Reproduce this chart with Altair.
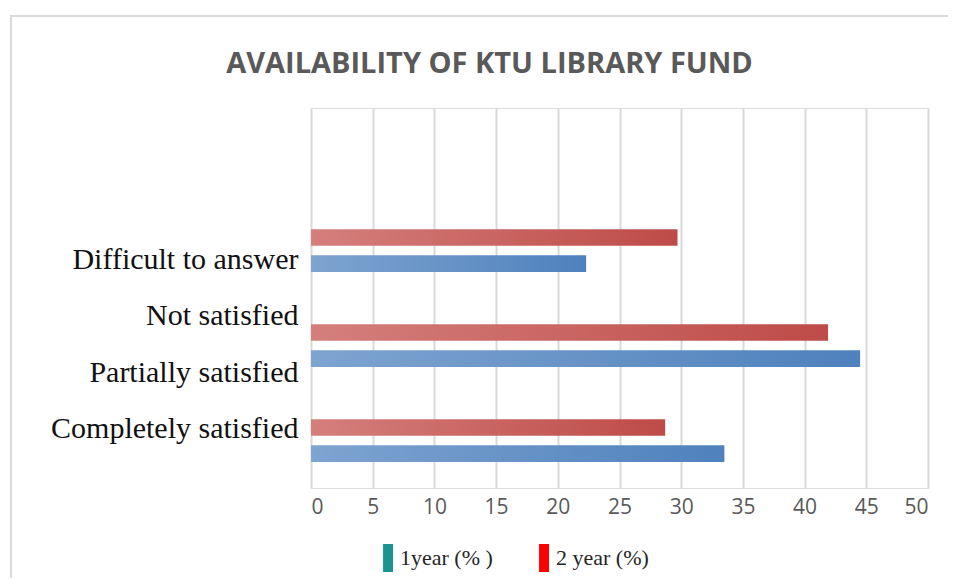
import altair as alt
import pandas as pd

# ---- data ----
categories = ["Not satisfied", "Difficult to answer", "Partially satisfied", "Completely satisfied"]
one_year = [0.0, 22.3, 44.5, 33.5]
two_year = [0.0, 29.7, 41.9, 28.7]
axis_labels = ["Difficult to answer", "Not satisfied", "Partially satisfied", "Completely satisfied"]
series_names = ["1year (% )", "2 year (%)"]
legend_colors = ["#1a9391", "#ff0000"]
ticks = list(range(0, 51, 5))
title_text = "AVAILABILITY OF KTU LIBRARY FUND"

bars_df = pd.DataFrame({
    "Category": categories * 2,
    "Series": [series_names[0]] * len(categories) + [series_names[1]] * len(categories),
    "Value": one_year + two_year,
})
labels_df = pd.DataFrame({"Label": axis_labels})
legend_df = pd.DataFrame({"Series": series_names})

x_enc = alt.X(
    "Value:Q",
    scale=alt.Scale(domain=[0, 50], nice=False),
    axis=alt.Axis(values=ticks, grid=True, domain=False, ticks=False, title=None,
                  labelFont="Open Sans", labelFontSize=21, labelColor="#595959",
                  labelPadding=8, gridColor="#d9d9d9", gridWidth=2),
)
y_enc = alt.Y("Category:N", sort=categories,
              scale=alt.Scale(domain=categories, paddingInner=0.55, paddingOuter=0.275),
              axis=None)
yoff_enc = alt.YOffset("Series:N",
                       scale=alt.Scale(domain=[series_names[1], series_names[0]],
                                       paddingInner=0.358, paddingOuter=0))

red_grad = alt.LinearGradient(
    gradient="linear",
    stops=[alt.GradientStop(color="#d47f7c", offset=0), alt.GradientStop(color="#be4b48", offset=1)],
    x1=0, x2=1, y1=0, y2=0,
)
blue_grad = alt.LinearGradient(
    gradient="linear",
    stops=[alt.GradientStop(color="#7ea4d0", offset=0), alt.GradientStop(color="#4f81bd", offset=1)],
    x1=0, x2=1, y1=0, y2=0,
)

base = alt.Chart(bars_df)
red_bars = base.transform_filter(alt.datum.Series == series_names[1]).mark_bar(color=red_grad).encode(
    x=x_enc, y=y_enc, yOffset=yoff_enc)
blue_bars = base.transform_filter(alt.datum.Series == series_names[0]).mark_bar(color=blue_grad).encode(
    x=x_enc, y=y_enc, yOffset=yoff_enc)
bars = alt.layer(red_bars, blue_bars)

label_layer = alt.Chart(labels_df).mark_text(opacity=0).encode(
    y=alt.Y("Label:N", sort=axis_labels,
            scale=alt.Scale(type="point", domain=axis_labels, range=[151.5, 320.5], padding=0),
            axis=alt.Axis(orient="left", title=None, domain=False, ticks=False, grid=False,
                          labelFont="Liberation Serif", labelFontSize=30, labelColor="#111111",
                          labelPadding=13, labelLimit=400))
)

legend_layer = alt.Chart(legend_df).mark_bar().encode(
    x=alt.datum(0), x2=alt.datum(0),
    color=alt.Color("Series:N",
                    scale=alt.Scale(domain=series_names, range=legend_colors),
                    legend=alt.Legend(orient="none", legendX=54, legendY=436, direction="horizontal",
                                      title=None, symbolType="M0.29,-1L1,-1L1,1L0.29,1Z",
                                      symbolSize=784, symbolStrokeWidth=0, symbolOpacity=1,
                                      labelFont="Liberation Serif", labelFontSize=22,
                                      labelColor="#262626", labelOffset=7, columnPadding=28,
                                      padding=0))
)

frame = alt.Chart(alt.Data(values=[{}])).mark_rect(
    fill="transparent", stroke="#d9d9d9", strokeWidth=2
).encode(x=alt.value(-300), x2=alt.value(700), y=alt.value(-92), y2=alt.value(600))

chart = alt.layer(frame, bars, label_layer, legend_layer).resolve_scale(y="independent").properties(
    width=617, height=380,
    autosize=alt.AutoSizeParams(type="none"),
    padding={"left": 303, "top": 100, "right": 20, "bottom": 90},
    title=alt.TitleParams(text=title_text, font="Open Sans", fontSize=29, fontWeight="bold",
                          color="#595959", anchor="middle", frame="group", dx=-130, offset=-64),
).configure_view(strokeWidth=0).configure(background="white")

chart.save("out.html", embed_options={"renderer": "svg", "actions": False})
